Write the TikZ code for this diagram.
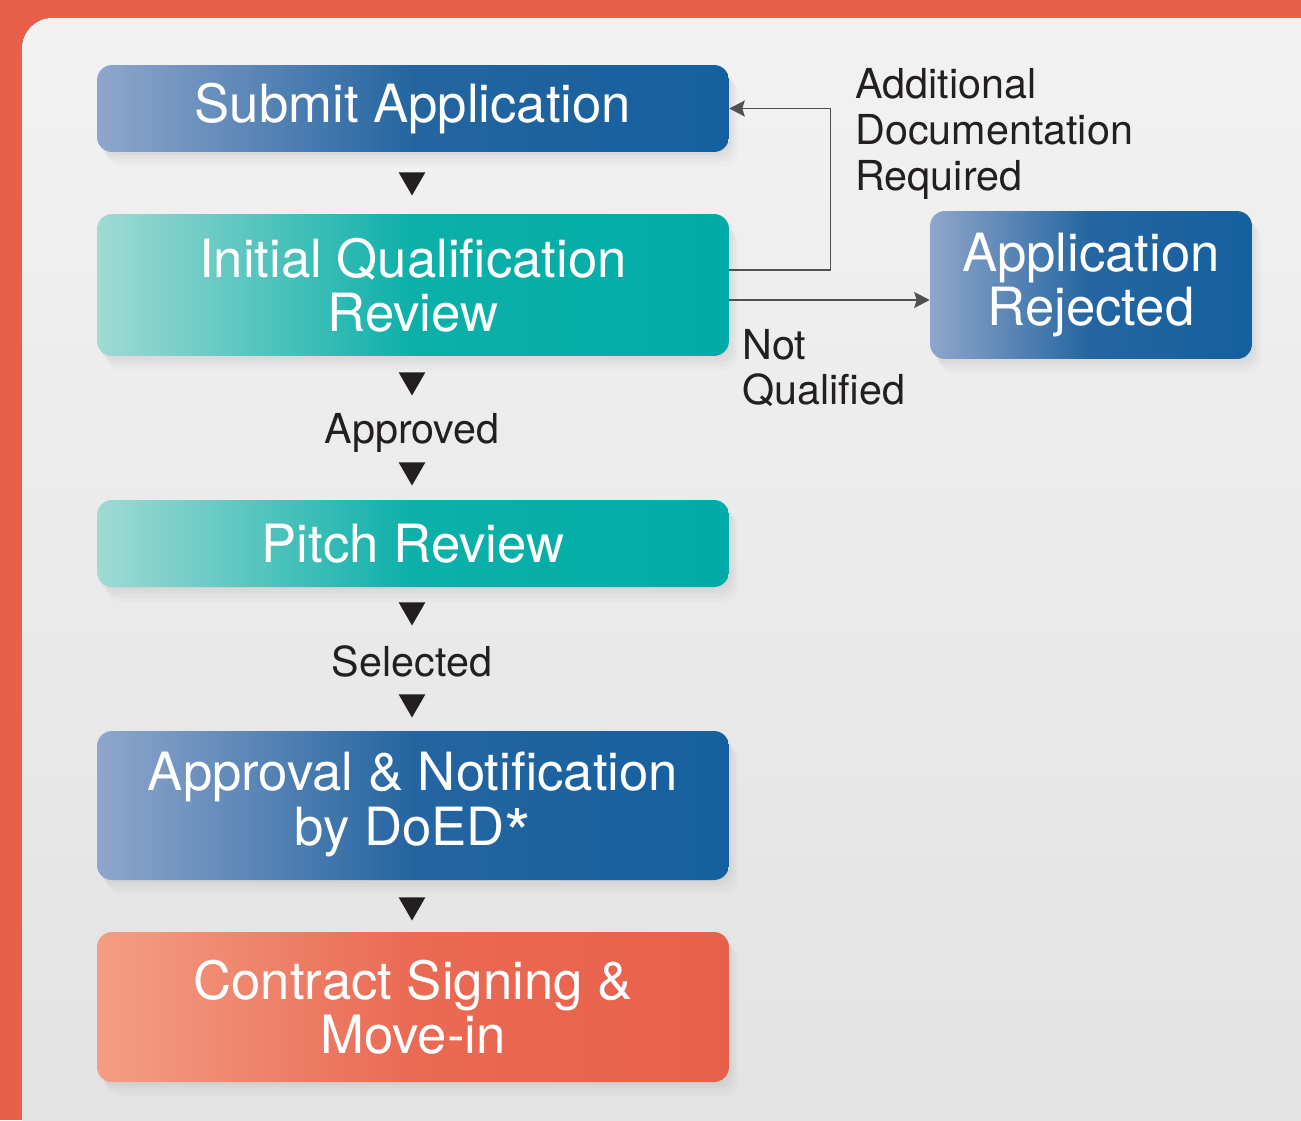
\documentclass[tikz,border=0pt]{standalone}
\usepackage{fontspec}
\setmainfont{TeX Gyre Heros}
\usetikzlibrary{arrows.meta}
\usetikzlibrary{shapes.geometric}
\usetikzlibrary{shadows}
\usetikzlibrary{positioning}
\definecolor{frame}{RGB}{233,96,74}
\definecolor{panelT}{RGB}{242,242,242}
\definecolor{panelB}{RGB}{226,226,226}
\definecolor{blueL}{RGB}{143,166,204}
\definecolor{blueM}{RGB}{36,101,160}
\definecolor{blueD}{RGB}{20,96,158}
\definecolor{tealL}{RGB}{160,218,212}
\definecolor{tealM}{RGB}{12,176,169}
\definecolor{tealD}{RGB}{0,172,167}
\definecolor{redL}{RGB}{243,158,132}
\definecolor{redM}{RGB}{234,106,84}
\definecolor{redD}{RGB}{232,96,74}
\definecolor{ink}{RGB}{35,31,32}
\definecolor{wire}{RGB}{80,80,80}

\begin{document}
\begin{tikzpicture}[x=0.02cm,y=-0.02cm,>={Stealth[length=3.1mm,width=3.2mm,inset=0.5mm]},
    box/.style={rectangle,rounded corners=0.3cm,text=white,align=center,
      minimum width=12.64cm,font=\fontsize{30}{31}\selectfont,
      drop shadow={opacity=0.05,shadow xshift=0.04cm,shadow yshift=-0.06cm},
      drop shadow={opacity=0.05,shadow xshift=0.09cm,shadow yshift=-0.13cm},
      drop shadow={opacity=0.04,shadow xshift=0.14cm,shadow yshift=-0.21cm},
      drop shadow={opacity=0.03,shadow xshift=0.19cm,shadow yshift=-0.29cm}},
    blue box/.style={box,left color=blueL,right color=blueD,middle color=blueM},
    teal box/.style={box,left color=tealL,right color=tealD,middle color=tealM},
    red box/.style={box,left color=redL,right color=redD,middle color=redM},
    tri/.style={regular polygon,regular polygon sides=3,shape border rotate=180,
      fill=ink,minimum size=0.62cm,inner sep=0pt},
    lbl/.style={text=ink,inner sep=0pt,font=\fontsize{23.5}{26}\selectfont},
    link/.style={draw=wire,line width=0.85pt}]
  \useasboundingbox (0,0) rectangle (1301,1120);
  \clip (0,0) rectangle (1301,1120);
  % frame + panel
  \fill[frame] (0,0) rectangle (1301,1120);
  \fill[top color=panelT,bottom color=panelB,rounded corners=0.6cm] (22,18) rectangle (1360,1180);

  % steps
  \node[blue box,minimum height=1.74cm] (submit) at (413,108.5) {Submit Application};
  \node[teal box,minimum height=2.84cm] (qual) at (413,285) {Initial Qualification\\Review};
  \node[teal box,minimum height=1.74cm] (pitch) at (413,543.5) {Pitch Review};
  \node[blue box,minimum height=2.98cm] (doed) at (413,805.5) {Approval \& Notification\\by DoED\raisebox{-0.5ex}{\scalebox{1.3}{*}}};
  \node[red box,minimum height=3cm] (move) at (413,1007) {Contract Signing \&\\Move-in};
  \node[blue box,minimum width=6.44cm,minimum height=2.96cm] (reject) at (1091,285) {Application\\Rejected};

  % down markers
  \node[tri] (t1) at (412,180) {};
  \node[tri] (t2) at (412,380) {};
  \node[tri] (t3) at (412,470) {};
  \node[tri] (t4) at (412,610) {};
  \node[tri] (t5) at (412,702) {};
  \node[tri] (t6) at (412,905) {};
  \node[lbl] (appr) at (412,433) {Approved};
  \node[lbl] (sel) at (412,661) {Selected};

  % side branches
  \draw[link,->] ([yshift=0.3cm]qual.east) -- ++(2.02cm,0) |- (submit.east);
  \draw[link,->] ([yshift=-0.3cm]qual.east) -- ([yshift=-0.3cm]reject.west);
  \node[lbl,anchor=west,align=left] (docs) at (855,134) {Additional\\Documentation\\Required};
  \node[lbl,anchor=west,align=left] (notq) at (742,368) {Not\\Qualified};
\end{tikzpicture}
\end{document}
